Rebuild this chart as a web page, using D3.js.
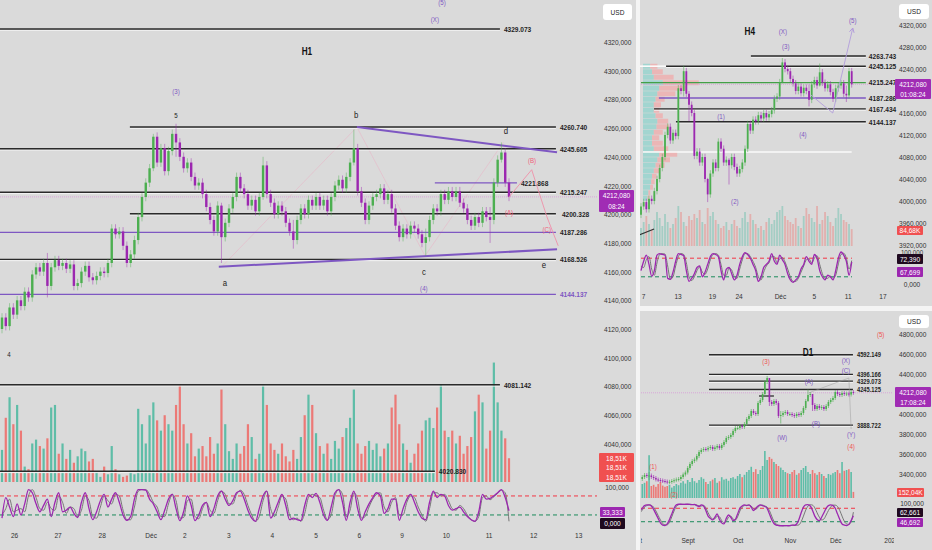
<!DOCTYPE html>
<html><head><meta charset="utf-8">
<script src="https://cdn.jsdelivr.net/npm/d3@7"></script>
<style>body{margin:0;background:#dadada}svg{display:block}</style>
</head><body>
<svg id="c" width="932" height="550"></svg>
<script>
// ---------------- DATA ----------------
// H1 (2h-resolution closes)
const h1Close = [4128,4122,4135,4130,4140,4136,4146,4142,4158,4163,
 4160,4166,4150,4163,4168,4164,4166,4162,4165,4150,
 4152,4160,4164,4156,4154,4157,4160,4159,4166,4190,
 4186,4188,4178,4166,4172,4182,4198,4212,4222,4232,
 4254,4236,4246,4230,4244,4256,4250,4240,4232,4236,
 4226,4220,4222,4214,4205,4196,4188,4206,4184,4194,
 4204,4212,4226,4218,4214,4206,4210,4202,4212,4234,
 4214,4208,4200,4206,4202,4194,4188,4182,4196,4204,
 4200,4210,4206,4212,4206,4210,4202,4212,4220,4224,
 4218,4226,4236,4246,4216,4208,4196,4206,4212,4214,
 4218,4210,4214,4204,4192,4184,4190,4186,4192,4190,
 4186,4180,4184,4196,4204,4202,4214,4210,4216,4212,
 4216,4208,4204,4196,4192,4198,4194,4202,4198,4196,
 4222,4238,4243,4222,4212.08];
const h1Open0 = 4120;
const h1Spikes = [[12,4173,4142],[40,4256,4230],[46,4263,4240],[58,4208,4166],[69,4240,4210],[77,4196,4176],[93,4259,4234],[112,4190,4171],[129,4205,4180],[132,4250,4236]];
const h1Vol = [25,50,66,45,60,40,12,10,30,33,
 28,26,34,58,60,22,30,18,25,15,
 20,26,24,16,18,8,4,12,6,28,
 10,6,4,5,8,6,57,45,30,52,
 62,48,40,52,45,40,60,75,45,30,
 38,20,26,28,20,35,22,30,72,45,
 24,18,30,22,28,45,35,18,22,75,
 60,30,25,22,30,20,16,25,18,35,
 52,68,60,38,28,22,30,18,32,26,
 35,42,50,72,30,22,28,32,25,30,
 20,26,30,58,68,45,30,25,15,22,
 30,40,48,50,42,58,76,40,35,40,
 30,36,22,28,35,55,68,62,26,40,
 93,62,40,34,18.51];
const h1K = [10,75,45,15,55,20,55,100,90,55,
 30,50,70,15,60,90,30,35,45,25,
 12,60,90,40,5,30,65,85,45,70,
 90,60,20,3,15,70,100,100,98,70,
 55,30,5,35,70,85,40,2,30,80,
 50,2,20,50,60,15,40,80,95,70,
 50,65,90,95,70,35,10,0,40,80,
 95,10,30,60,85,50,5,10,5,2,
 50,85,75,88,60,20,3,45,90,100,
 60,3,60,95,40,3,30,55,75,90,
 80,25,40,70,70,3,40,70,85,60,
 30,10,5,60,95,75,85,80,50,35,
 40,45,30,15,5,0,30,85,70,72,
 80,90,100,75,33.333];
const h1D = [20,40,70,30,35,40,30,80,100,75,
 40,35,60,40,35,80,60,25,45,40,
 15,35,80,65,15,10,45,80,65,55,
 85,80,35,5,5,45,95,100,100,85,
 60,45,15,15,55,85,65,10,12,65,
 70,15,8,40,60,35,25,65,95,85,
 55,55,85,98,85,50,20,0,15,65,
 95,40,15,45,80,70,20,5,10,0,
 25,75,85,80,75,35,5,20,80,100,
 85,15,35,90,70,10,15,45,70,85,
 90,45,30,60,75,20,20,60,80,75,
 45,20,0,40,90,90,80,85,65,40,
 35,50,40,20,5,0,15,75,80,68,
 78,88,98,90,0];
const h1PriceTicks = [4320,4300,4280,4260,4240,4220,4200,4180,4160,4140,4120,4100,4080,4060,4040];
const h1TimeTicks = [3.2,14.7,26.35,39.3,48.2,59.8,71.3,82.9,94.3,105.6,117.3,128.6,140.4,152.3];
const h1TimeLabels = ["26","27","28","Déc","2","3","4","5","6","9","10","11","12","13"];
// levels: [price, fromBar, toBar, kind]
const h1Levels = [[4329.073,-1,131.6,"k"],[4260.740,33.8,146.4,"k"],[4245.605,-1,146.4,"k"],[4215.247,-1,146.4,"k"],
 [4200.328,33.8,146.4,"k"],[4187.286,-1,146.4,"p"],[4168.526,-1,146.4,"k"],[4144.137,-1,146.4,"p"],
 [4221.868,114.4,136.1,"p"],[4081.142,-1,131.6,"k"],[4020.830,-1,114.4,"k"]];
const h1Trend = [[[93.8,4260.7],[146.7,4243.1]],[[57.3,4163.4],[146.7,4175.5]]];
const h1Waves = [["(5)",116.3,4347.9,"p"],["(X)",114.4,4336,"p"],["H1",80.6,4313.7,"t"],["(3)",46,4285.9,"p"],
 ["5",46,4269.1,"s"],["b",93.6,4269.1,"k"],["d",133.2,4258,"k"],["(B)",140.1,4237.8,"r"],["(A)",134,4201.5,"r"],
 ["(C)",144,4189.7,"r"],["a",58.9,4152,"k"],["c",111.5,4159.7,"k"],["e",143.2,4164.6,"k"],["(4)",111.5,4148.6,"p"],["4",1.85,4102.6,"s"]];
const h1Proj = [[134,4212],[140,4231],[144,4198.3],[147,4178]];
const h1Faint = [[58.3,4164],[93.8,4260.7],[111.8,4171],[132.5,4250]];

// H4
const h4Close = [3990,3998,3985,4004,4000,4018,4040,4060,4080,4120,
 4135,4110,4124,4118,4205,4200,4236,4195,4175,4160,
 4082,4090,4070,4080,4040,4012,4050,4070,4060,4108,
 4095,4070,4075,4065,4080,4062,4050,4058,4070,4095,
 4140,4128,4148,4145,4156,4150,4160,4152,4158,4165,
 4186,4190,4216,4252,4240,4236,4222,4214,4200,4208,
 4196,4206,4200,4184,4212,4220,4210,4234,4215,4205,
 4212,4198,4186,4205,4210,4214,4195,4192,4236,4212.08];
const h4Open0 = 3975;
const h4Spikes = [[16,4246,4190],[18,4200,4145],[25,4042,3998],[33,4078,4030],[53,4260,4214],[67,4250,4208],[63,4212,4172],[77,4210,4180]];
const h4Vol = [90,120,150,110,80,130,170,140,100,160,120,90,110,140,200,170,120,100,150,130,
 160,140,180,120,110,190,150,170,130,110,90,100,120,80,110,130,100,90,140,170,
 120,160,130,110,90,100,80,120,140,110,130,170,180,200,150,130,120,110,140,100,
 90,150,190,160,140,120,200,110,130,170,150,120,100,140,190,160,130,120,110,84.68];
const h4K = [40,70,90,60,22,40,90,95,92,90,15,12,35,70,95,92,88,40,5,15,
 30,50,55,20,35,60,85,95,92,85,40,10,45,50,30,10,25,60,85,98,
 92,80,60,40,5,20,50,60,70,95,70,60,90,75,60,30,10,2,10,20,
 45,60,85,70,60,92,80,40,20,10,25,20,10,40,80,100,90,70,25,67.699];
const h4D = [55,50,75,85,45,25,65,92,95,93,55,12,20,55,85,95,92,65,20,8,
 20,40,52,35,28,45,75,92,95,90,60,25,25,48,42,20,15,45,75,95,
 95,85,70,50,20,10,35,55,65,85,85,65,78,82,68,45,20,5,5,15,
 35,55,75,78,65,80,88,60,30,15,15,22,15,25,62,92,96,80,45,72.39];
const h4ProfPrice = [4245,4235,4225,4215,4205,4195,4185,4175,4165,4155,4145,4135,4125,4115,4105,4095,4085,4075,4065,4055,4045,4035,4025,4015,4005];
const h4ProfUp = [8,10,12,22,18,16,14,12,12,14,16,15,12,10,10,12,18,16,14,12,10,9,8,6,5];
const h4ProfDn = [8,12,22,40,30,20,10,8,6,8,12,14,10,8,12,16,20,14,10,6,5,4,3,2,2];
const h4PriceTicks = [4320,4280,4240,4160,4120,4080,4040,4000,3960,3920];
const h4TimeTicks = [0.75,13.7,26.6,36.6,52.1,64.8,77.5,90.5];
const h4TimeLabels = ["7","13","19","24","Déc","5","11","17"];
const h4Levels = [[4263.743,41.2,84.3,"k"],[4245.125,9.4,84.3,"k"],[4215.247,0,84.3,"g"],[4187.286,6.7,84.3,"p"],[4167.434,4.9,84.3,"k"],[4144.137,13.1,84.3,"k"]];
const h4White = [[4245.125,-1,9.4],[4089,0.75,79]];
const h4Waves = [["H4",40.8,4309,"t"],["(X)",53.2,4309,"p"],["(3)",54.3,4281.8,"p"],["(5)",79.4,4329,"p"],["(1)",30,4154.5,"p"],["(4)",60.7,4121.8,"p"],["(2)",35.2,4000,"p"]];
const h4Proj = [[63.7,4192.7],[71.9,4160],[79.4,4314.5]];
const h4Diag = [[-0.75,3938],[4.9,3949]];

// D1
const d1Close = [3350,3370,3390,3380,3385,3370,3360,3345,3340,3335,3330,3325,3318,3322,3330,3338,3345,3350,3370,3395,3415,
 3460,3500,3530,3545,3580,3620,3640,3650,3645,3660,3670,3650,3665,3680,3660,3690,3720,3760,3770,3790,3830,3860,
 3860,3880,3870,3900,3950,3980,4030,4010,4000,4110,4140,4200,4320,4360,4120,4100,4130,4110,3980,3990,4010,4020,4000,
 4000,3990,3980,4000,3990,4010,4060,4130,4190,4200,4090,4050,4080,4060,4070,4050,4080,4120,4140,4160,
 4220,4200,4190,4210,4200,4205,4195,4220,4212.08];
const d1Open0 = 3340;
const d1Spikes = [[4,3420,3340],[56,4381,4300],[57,4360,4080],[62,4030,3905],[74,4245,4120],[76,4200,4030],[85,4180,4120]];
const d1Vol = [300,350,380,420,1070,300,330,280,350,400,310,280,300,330,260,300,350,320,380,420,360,
 450,400,500,420,380,450,520,480,400,350,420,460,500,380,420,520,460,480,430,500,520,480,
 550,600,520,580,650,700,780,650,720,600,700,800,1175,950,1025,980,900,850,800,760,700,650,620,
 600,650,700,580,620,700,750,800,650,600,700,620,580,650,600,550,500,600,580,620,
 650,700,620,900,680,700,720,650,152.04];
const d1K = [70,80,92,95,95,90,75,55,35,15,5,
 3,10,30,55,80,95,98,98,97,98,
 98,97,96,97,92,88,95,90,70,45,
 35,28,40,55,30,15,10,35,50,40,
 25,30,55,80,90,95,92,95,85,70,
 80,90,95,92,88,80,55,30,12,5,
 3,2,2,3,2,3,5,4,10,30,
 60,85,95,96,90,70,45,30,25,40,
 60,80,92,95,92,80,55,30,10,5,
 3,8,25,46.692];
const d1D = [60,72,85,92,95,93,85,68,48,28,12,
 6,6,18,42,68,88,96,98,98,97,
 98,98,97,96,95,90,90,93,82,60,
 42,32,33,45,42,25,15,22,40,45,
 32,28,42,68,85,92,94,94,90,78,
 75,85,93,94,90,85,70,45,22,10,
 5,3,2,2,3,2,4,5,4,6,
 20,45,72,90,96,94,82,60,40,28,
 32,50,70,86,94,94,88,70,45,22,
 10,8,20,62.661];
const d1PriceTicks = [4800,4600,4400,4000,3800,3600,3400];
const d1TimeTicks = [-2.3,21,43,66,86,110.6];
const d1TimeLabels = ["Août","Sept","Oct","Nov","Déc","2026"];
const d1Levels = [[4592.149,30.4,93.8,"k"],[4396.166,30.4,93.8,"k"],[4329.073,30.4,93.8,"k"],[4245.125,30.4,93.8,"k"],[3888.722,30.4,93.8,"k"]];
const d1Short = [4180,52.4,59];
const d1Waves = [["D1",74,4620,"t"],["(5)",106,4800,"r"],["(3)",55.5,4530,"r"],["(X)",90.7,4540,"p"],["(C)",90.7,4440,"p"],
 ["(A)",74.4,4330,"p"],["(B)",77.5,3910,"p"],["(W)",62.6,3770,"p"],["(Y)",93,3800,"p"],["(4)",93,3680,"r"],["(1)",5.7,3480,"r"],["(2)",15,3200,"r"]];
const d1Proj = [[74.4,4212],[92,4360],[93,3850]];

const lastPrice = 4212.08;

// ---------------- DRAW ----------------
const FONT = "'Liberation Sans','DejaVu Sans',Arial,sans-serif";
const UP = "#4caf50", DN = "#9c27b0", PURP = "#7e57c2", RED = "#ef5350", PINK = "#f0607a";
const svg = d3.select("#c").style("font-family", FONT);
svg.append("rect").attr("width",932).attr("height",550).attr("fill","#dadada");
const defs = svg.append("defs");
function clip(id,x,y,w,h){defs.append("clipPath").attr("id",id).append("rect").attr("x",x).attr("y",y).attr("width",w).attr("height",h);return "url(#"+id+")";}
const fmt = d => d3.format(".3f")(d).replace(".", ",");
const fmtK = d => d3.format(".2f")(d).replace(".", ",") + "K";

function candleData(closes, open0, spikes, wick){
  const sp = new Map(spikes.map(s=>[s[0],s]));
  return closes.map((c,i)=>{
    const o = i===0?open0:closes[i-1];
    const s = sp.get(i);
    const hi = s?Math.max(s[1],o,c):Math.max(o,c)+wick;
    const lo = s?Math.min(s[2],o,c):Math.min(o,c)-wick;
    return {i,o,c,hi,lo,up:c>=o};
  });
}
function drawCandles(g,xs,ys,data,bw,wop){
  g.selectAll("line.wk").data(data).join("line").attr("class","wk")
   .attr("x1",d=>xs(d.i)).attr("x2",d=>xs(d.i)).attr("y1",d=>ys(d.hi)).attr("y2",d=>ys(d.lo))
   .attr("stroke",d=>d.up?UP:DN).attr("stroke-opacity",wop).attr("stroke-width",1);
  g.selectAll("rect.bd").data(data).join("rect").attr("class","bd")
   .attr("x",d=>xs(d.i)-bw/2).attr("width",bw)
   .attr("y",d=>ys(Math.max(d.o,d.c))).attr("height",d=>Math.max(1,Math.abs(ys(d.o)-ys(d.c))))
   .attr("fill",d=>d.up?UP:DN);
}
function drawVolume(g,xs,yv,vols,data,bw,op){
  g.selectAll("rect.vol").data(vols).join("rect").attr("class","vol")
   .attr("x",(d,i)=>xs(i)-bw/2).attr("width",bw)
   .attr("y",d=>yv(d)).attr("height",d=>yv(0)-yv(d))
   .attr("fill",(d,i)=>data[i].up?"#3fb59a":"#f0605c").attr("fill-opacity",op);
}
function drawOsc(g,xs,yo,K,D,x0,x1){
  g.append("line").attr("x1",x0).attr("x2",x1).attr("y1",yo(80)).attr("y2",yo(80)).attr("stroke","#f23645").attr("stroke-dasharray","4,3").attr("stroke-width",1);
  g.append("line").attr("x1",x0).attr("x2",x1).attr("y1",yo(20)).attr("y2",yo(20)).attr("stroke","#1b8a5a").attr("stroke-dasharray","4,3").attr("stroke-width",1);
  const ln = d3.line().x((d,i)=>xs(i)).y(d=>yo(d)).curve(d3.curveMonotoneX);
  g.append("path").attr("d",ln(D)).attr("fill","none").attr("stroke","#777").attr("stroke-width",1);
  g.append("path").attr("d",ln(K)).attr("fill","none").attr("stroke","#9c27b0").attr("stroke-width",1.3);
}
function drawLevel(g,lg,xs,ys,lv,labelDx,fs){
  const [p,a,b,kind]=lv; const y=ys(p);
  const col = kind==="p"?PURP:(kind==="g"?"#43a047":"#2a2a2a");
  if(kind==="k") g.append("line").attr("x1",xs(a)).attr("x2",xs(b)).attr("y1",y+1.3).attr("y2",y+1.3).attr("stroke","#f4f4f4").attr("stroke-width",1);
  g.append("line").attr("x1",xs(a)).attr("x2",xs(b)).attr("y1",y).attr("y2",y).attr("stroke",col).attr("stroke-width",kind==="k"?1.4:1.3);
  lg.append("text").attr("x",xs(b)+labelDx).attr("y",y).attr("dy","0.35em").attr("font-size",fs).attr("font-weight",600)
   .attr("fill",kind==="p"&&p<4150?PURP:"#1e1e1e").text(d3.format(".3f")(p));
}
function drawWaves(g,xs,ys,waves){
  const colors={p:PURP,r:RED,k:"#222",s:"#222",t:"#111"};
  const sizes={p:7.5,r:7.5,k:9.5,s:7.5,t:10};
  waves.forEach(w=>{
    g.append("text").attr("x",xs(w[1])).attr("y",ys(w[2])).attr("dy","0.35em").attr("text-anchor","middle")
     .attr("font-size",sizes[w[3]]).attr("font-weight",w[3]==="t"?700:400)
     .attr("fill",(w[0]==="(B)"||w[0]==="(A)"||w[0]==="(C)")&&w[3]==="r"?PINK:colors[w[3]]).text(w[0]);
  });
}
function priceAxis(x,ys,ticks){
  const g=svg.append("g").attr("transform",`translate(${x},0)`)
   .call(d3.axisRight(ys).tickValues(ticks).tickSize(0).tickPadding(0).tickFormat(fmt));
  g.select(".domain").remove();
  g.attr("font-family",FONT).attr("font-size",8);
  g.selectAll("text").attr("fill","#333");
  return g;
}
function timeAxis(y,xs,ticks,labels,cp){
  const outer=svg.append("g").attr("clip-path",cp);
  const g=outer.append("g").attr("transform",`translate(0,${y})`)
   .call(d3.axisBottom(xs).tickValues(ticks).tickSize(0).tickPadding(0).tickFormat((d,i)=>labels[i]));
  g.select(".domain").remove();
  g.attr("font-family",FONT).attr("font-size",8);
  g.selectAll("text").attr("fill","#333");
}
function box(x,y,w,h,fill,lines,tc){
  svg.append("rect").attr("x",x).attr("y",y).attr("width",w).attr("height",h).attr("fill",fill).attr("rx",fill==="#fff"?3:1);
  lines.forEach((t,k)=>svg.append("text").attr("x",x+w/2).attr("y",y+(k+0.5)*h/lines.length).attr("dy","0.35em")
    .attr("text-anchor","middle").attr("font-size",8).attr("fill",tc||"#fff").text(t));
}
function plain(x,y,t,fs){
  svg.append("text").attr("x",x).attr("y",y).attr("dy","0.35em").attr("text-anchor","middle").attr("font-size",fs||8).attr("fill","#333").text(t);
}
function polyline(g,xs,ys,pts,stroke,w,op,dash){
  g.append("path").attr("d",d3.line().x(d=>xs(d[0])).y(d=>ys(d[1]))(pts)).attr("fill","none")
   .attr("stroke",stroke).attr("stroke-width",w).attr("stroke-opacity",op).attr("stroke-dasharray",dash||null);
}

// ===== H1 =====
const xH1 = d3.scaleLinear().domain([0,134]).range([2,509]);
const yH1 = d3.scaleLinear().domain([4040,4320]).range([443.8,42]);
const vH1 = d3.scaleLinear().domain([0,95]).range([482,360]);
const oH1 = d3.scaleLinear().domain([0,100]).range([521.3,489.6]);
const h1Data = candleData(h1Close,h1Open0,h1Spikes,3);
const gH1 = svg.append("g").attr("clip-path",clip("c1",0,0,597,483));
drawVolume(gH1,xH1,vH1,h1Vol,h1Data,2.2,0.8);
gH1.append("line").attr("x1",0).attr("x2",636).attr("y1",yH1(lastPrice)).attr("y2",yH1(lastPrice)).attr("stroke","#d9a6d9").attr("stroke-width",1).attr("stroke-dasharray","1,1");
polyline(gH1,xH1,yH1,h1Faint,"#e8b8c8",1,0.6);
h1Levels.forEach(l=>drawLevel(gH1,gH1,xH1,yH1,l,l[0]===4200.328?6:4,8));
h1Trend.forEach(t=>polyline(gH1,xH1,yH1,t,PURP,2,1));
drawCandles(gH1,xH1,yH1,h1Data,2.4,0.45);
polyline(gH1,xH1,yH1,h1Proj,"#f090a8",1,0.9);
drawWaves(gH1,xH1,yH1,h1Waves);
const gO1 = svg.append("g").attr("clip-path",clip("c2",0,483,597,45));
drawOsc(gO1,xH1,oH1,h1K,h1D,0,597);
priceAxis(604,yH1,h1PriceTicks);
timeAxis(532,xH1,h1TimeTicks,h1TimeLabels,clip("c3",0,528,597,22));
box(603,4,29,16,"#fff",["USD"],"#222");
box(599,190,35,22,"#a02cb4",[fmt(lastPrice),"08:24"]);
box(599,453,35,29,"#f05050",[fmtK(h1Vol[134]),fmtK(h1Vol[134]),fmtK(h1Vol[134])]);
plain(617,oH1(100)-2,fmt(100));
box(600,507,25,10,"#9c27b0",[fmt(h1K[134])]);
box(600,518,25,11,"#1f0a1f",[fmt(h1D[134])]);

// separators
svg.append("rect").attr("x",636).attr("y",0).attr("width",4).attr("height",550).attr("fill","#f4f4f4");
svg.append("rect").attr("x",640).attr("y",306).attr("width",292).attr("height",5).attr("fill","#f4f4f4");

// ===== H4 =====
const xH4 = d3.scaleLinear().domain([0,79]).range([641,851.7]);
const yH4 = d3.scaleLinear().domain([3920,4320]).range([245,25]);
const vH4 = d3.scaleLinear().domain([0,225]).range([246,201]);
const oH4 = d3.scaleLinear().domain([0,100]).range([283,252]);
const pH4 = d3.scaleLinear().domain([0,70]).range([0,63]);
const h4Data = candleData(h4Close,h4Open0,h4Spikes,6);
const gH4 = svg.append("g").attr("clip-path",clip("c4",640,0,253,247));
const lH4 = svg.append("g");
drawVolume(gH4,xH4,vH4,h4Vol,h4Data,1.8,0.35);
h4ProfPrice.forEach((p,k)=>{
  gH4.append("rect").attr("x",643).attr("y",yH4(p+4.5)).attr("width",pH4(h4ProfUp[k])).attr("height",yH4(p-4.5)-yH4(p+4.5)).attr("fill","#8fd3cc").attr("fill-opacity",0.75);
  gH4.append("rect").attr("x",643+pH4(h4ProfUp[k])).attr("y",yH4(p+4.5)).attr("width",pH4(h4ProfDn[k])).attr("height",yH4(p-4.5)-yH4(p+4.5)).attr("fill","#f2a6a6").attr("fill-opacity",0.7);
});
gH4.append("line").attr("x1",641).attr("x2",893).attr("y1",yH4(lastPrice)).attr("y2",yH4(lastPrice)).attr("stroke","#d9a6d9").attr("stroke-dasharray","1,1");
h4White.forEach(w=>gH4.append("line").attr("x1",xH4(w[1])).attr("x2",xH4(w[2])).attr("y1",yH4(w[0])).attr("y2",yH4(w[0])).attr("stroke","#fafafa").attr("stroke-width",1.6));
h4Levels.forEach(l=>drawLevel(gH4,lH4,xH4,yH4,l,3,8));
drawCandles(gH4,xH4,yH4,h4Data,1.8,0.5);
polyline(gH4,xH4,yH4,h4Proj,"#b39ddb",1,0.9);
polyline(gH4,xH4,yH4,h4Diag,"#333",1.2,1);
{const e=h4Proj[2], s=h4Proj[1]; const ex=xH4(e[0]), ey=yH4(e[1]); const ang=Math.atan2(ey-yH4(s[1]),ex-xH4(s[0]));
 gH4.append("path").attr("d",`M${ex-5*Math.cos(ang-0.5)},${ey-5*Math.sin(ang-0.5)}L${ex},${ey}L${ex-5*Math.cos(ang+0.5)},${ey-5*Math.sin(ang+0.5)}`).attr("fill","none").attr("stroke","#b39ddb");}
drawWaves(gH4,xH4,yH4,h4Waves);
const gO4 = svg.append("g").attr("clip-path",clip("c5",640,247,253,40));
drawOsc(gO4,xH4,oH4,h4K,h4D,641,852);
priceAxis(899,yH4,h4PriceTicks);
timeAxis(293,xH4,h4TimeTicks,h4TimeLabels,clip("c6",640,287,253,19));
box(899,4,30,15,"#fff",["USD"],"#222");
box(895,79,36,20,"#a02cb4",[fmt(lastPrice),"01:08:24"]);
box(897,226,26,9,"#f05050",[fmtK(h4Vol[79])]);
plain(912,oH4(100),fmt(100),7.5);
plain(912,oH4(0)+1,fmt(0));
box(897,254,26,10,"#1f0a1f",[fmt(h4D[79])]);
box(897,267,26,10,"#9c27b0",[fmt(h4K[79])]);

// ===== D1 =====
const xD1 = d3.scaleLinear().domain([0,94]).range([640,853.4]);
const yD1 = d3.scaleLinear().domain([3400,4600]).range([474,354]);
const vD1 = d3.scaleLinear().domain([0,1200]).range([498,450]);
const oD1 = d3.scaleLinear().domain([0,100]).range([526.2,503.8]);
const d1Data = candleData(d1Close,d1Open0,d1Spikes,20);
const gD1 = svg.append("g").attr("clip-path",clip("c7",641,311,252,188));
const lD1 = svg.append("g");
drawVolume(gD1,xD1,vD1,d1Vol,d1Data,1.6,0.8);
gD1.append("line").attr("x1",641).attr("x2",893).attr("y1",yD1(lastPrice)).attr("y2",yD1(lastPrice)).attr("stroke","#d9a6d9").attr("stroke-dasharray","1,1");
d1Levels.forEach(l=>drawLevel(gD1,lD1,xD1,yD1,l,4,7));
gD1.append("line").attr("x1",xD1(d1Short[1])).attr("x2",xD1(d1Short[2])).attr("y1",yD1(d1Short[0])).attr("y2",yD1(d1Short[0])).attr("stroke","#222").attr("stroke-width",1.2);
polyline(gD1,xD1,yD1,d1Proj,"#999",0.8,0.6);
drawCandles(gD1,xD1,yD1,d1Data,1.6,0.6);
drawWaves(gD1,xD1,yD1,d1Waves);
const gO7 = svg.append("g").attr("clip-path",clip("c8",641,499,252,31));
drawOsc(gO7,xD1,oD1,d1K,d1D,641,855);
priceAxis(899,yD1,d1PriceTicks);
timeAxis(537,xD1,d1TimeTicks,d1TimeLabels,clip("c9",641,530,253,20));
box(899,315,30,13,"#fff",["USD"],"#222");
box(895,387,36,20,"#a02cb4",[fmt(lastPrice),"17:08:24"]);
box(897,488,27,9,"#f05050",[fmtK(d1Vol[94])]);
plain(912,oD1(100)-1,fmt(100));
box(897,508,26,9,"#1f0a1f",[fmt(d1D[94])]);
box(897,518,26,9,"#9c27b0",[fmt(d1K[94])]);

// narrow the lettering like the reference's condensed face
svg.selectAll("text").each(function(){
  const L=this.getComputedTextLength();
  if(L>0){this.setAttribute("textLength",(L*0.82).toFixed(2));this.setAttribute("lengthAdjust","spacingAndGlyphs");}
});
</script>
</body></html>
